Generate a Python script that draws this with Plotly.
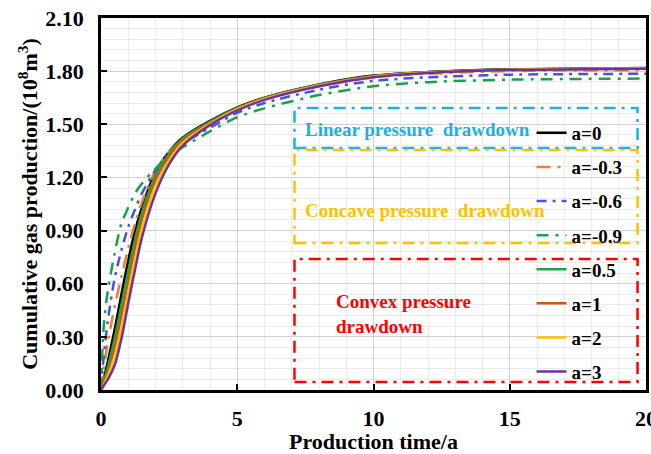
import plotly.graph_objects as go

time = [0, 0.1, 0.25, 0.5, 0.75, 1, 1.25, 1.5, 2, 2.5, 3, 4, 5, 6, 8, 10, 12, 15, 20]

a_0 = [0, 0.06, 0.16, 0.34, 0.54, 0.73, 0.90, 1.03, 1.23, 1.345, 1.425, 1.52, 1.595, 1.65, 1.725, 1.775, 1.795, 1.81, 1.818]
a_m03 = [0, 0.12, 0.27, 0.47, 0.64, 0.80, 0.94, 1.06, 1.24, 1.345, 1.415, 1.51, 1.59, 1.645, 1.715, 1.765, 1.785, 1.80, 1.806]
a_m06 = [0, 0.19, 0.39, 0.63, 0.79, 0.92, 1.02, 1.11, 1.24, 1.325, 1.39, 1.48, 1.565, 1.62, 1.695, 1.745, 1.765, 1.78, 1.785]
a_m09 = [0, 0.36, 0.56, 0.77, 0.94, 1.03, 1.11, 1.165, 1.25, 1.32, 1.37, 1.46, 1.54, 1.59, 1.665, 1.715, 1.738, 1.752, 1.758]
a_05 = [0, 0.05, 0.13, 0.29, 0.48, 0.67, 0.85, 1.00, 1.21, 1.335, 1.42, 1.515, 1.592, 1.648, 1.723, 1.773, 1.794, 1.809, 1.817]
a_1 = [0, 0.04, 0.10, 0.24, 0.42, 0.61, 0.80, 0.96, 1.185, 1.32, 1.41, 1.51, 1.589, 1.646, 1.721, 1.771, 1.793, 1.808, 1.816]
a_2 = [0, 0.03, 0.08, 0.19, 0.35, 0.55, 0.74, 0.91, 1.15, 1.295, 1.395, 1.503, 1.585, 1.643, 1.719, 1.769, 1.792, 1.807, 1.815]
a_3 = [0, 0.025, 0.06, 0.14, 0.29, 0.49, 0.68, 0.86, 1.11, 1.275, 1.38, 1.495, 1.578, 1.638, 1.715, 1.766, 1.79, 1.806, 1.814]

series = [
    ("a=0", a_0, "#000000", "solid"),
    ("a=-0.3", a_m03, "#ED7D31", "14px,7px,3px,7px"),
    ("a=-0.6", a_m06, "#4A50E0", "10px,6px,3px,6px"),
    ("a=-0.9", a_m09, "#16A34A", "12px,7px,3px,7px"),
    ("a=0.5", a_05, "#1FA34A", "solid"),
    ("a=1", a_1, "#C55A11", "solid"),
    ("a=2", a_2, "#FFC000", "solid"),
    ("a=3", a_3, "#7030A0", "solid"),
]

fig = go.Figure()
for i, (name, vals, color, dash) in enumerate(series):
    fig.add_trace(go.Scatter(
        x=time, y=vals, name=f"<b>{name}</b>", mode="lines",
        line=dict(color=color, width=2.5, dash=dash, shape="spline", smoothing=0.8),
        legendgroup=f"g{i}",
    ))

FONT = "Liberation Serif"

def box(x0, x1, y0, y1, color):
    fig.add_shape(type="rect", xref="x", yref="y", x0=x0, x1=x1, y0=y0, y1=y1,
                  line=dict(color=color, width=2.5, dash="12px,6px,3px,6px"),
                  fillcolor="rgba(0,0,0,0)", layer="above")

box(7.1, 19.69, 1.366, 1.592, "#1CB0EA")
box(7.1, 19.69, 0.83, 1.355, "#FFC000")
box(7.1, 19.69, 0.045, 0.74, "#FF0000")

fig.add_annotation(x=11.6, y=1.47, xref="x", yref="y", text="<b>Linear pressure  drawdown</b>",
                   showarrow=False, font=dict(family=FONT, size=19, color="#1CB0EA"))
fig.add_annotation(x=11.9, y=1.015, xref="x", yref="y", text="<b>Concave pressure  drawdown</b>",
                   showarrow=False, font=dict(family=FONT, size=19, color="#FFC000"))
fig.add_annotation(x=8.55, y=0.43, xref="x", yref="y", xanchor="left",
                   text="<b>Convex pressure<br>drawdown</b>", align="left",
                   showarrow=False, font=dict(family=FONT, size=19, color="#FF0000"))

fig.update_layout(
    width=651, height=454,
    margin=dict(l=101, r=5, t=18, b=64),
    paper_bgcolor="white", plot_bgcolor="white",
    font=dict(family=FONT, color="#000000"),
    showlegend=True,
    legend=dict(x=0.79, y=0.742, xanchor="left", yanchor="top",
                bgcolor="rgba(0,0,0,0)", font=dict(family=FONT, size=19, color="#000000"),
                tracegroupgap=6.4, itemwidth=30),
)

fig.update_xaxes(
    range=[0, 20], dtick=5, tick0=0, automargin=False,
    showline=True, linecolor="#000000", linewidth=2.5, mirror=True,
    ticks="inside", ticklen=6, tickwidth=2, tickcolor="#000000",
    showgrid=True, gridcolor="#D0D0D0", gridwidth=1.2,
    minor=dict(dtick=1, showgrid=True, gridcolor="#EBEBEB", gridwidth=1),
    tickfont=dict(family=FONT, size=22, color="#000000"),
    tickprefix="<b>", ticksuffix="</b>",
    ticklabelstandoff=7, ticklabeloverflow="allow",
    title=dict(text="<b>Production time/a</b>", font=dict(family=FONT, size=22), standoff=0),
    zeroline=False,
)
fig.update_yaxes(
    range=[0, 2.1], dtick=0.3, tick0=0, tickformat=".2f", automargin=False,
    showline=True, linecolor="#000000", linewidth=2.5, mirror=True,
    ticks="inside", ticklen=6, tickwidth=2, tickcolor="#000000",
    showgrid=True, gridcolor="#D0D0D0", gridwidth=1.2,
    minor=dict(dtick=0.06, showgrid=True, gridcolor="#EBEBEB", gridwidth=1),
    tickfont=dict(family=FONT, size=22, color="#000000"),
    tickprefix="<b>", ticksuffix="</b>",
    ticklabelstandoff=10,
    title=dict(text="<b>Cumulative gas production/(10<sup>8</sup>m<sup>3</sup>)</b>",
               font=dict(family=FONT, size=22), standoff=2),
    zeroline=False,
)

fig.write_html("out.html")
